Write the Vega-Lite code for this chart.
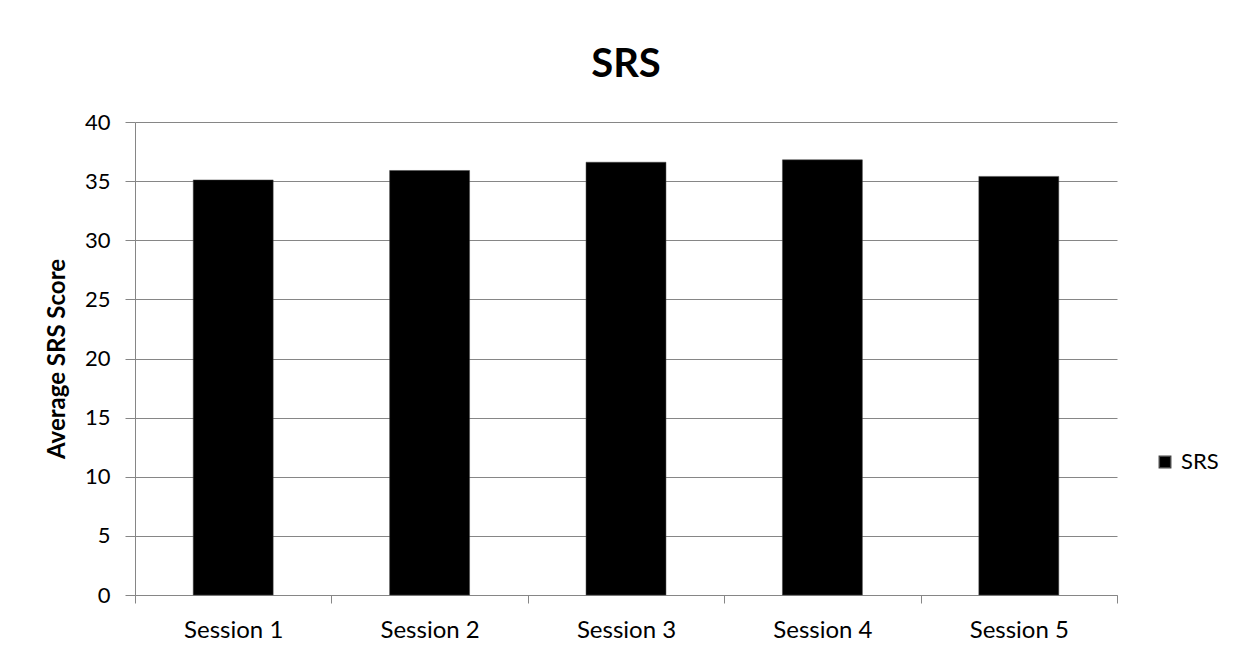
{
  "$schema": "https://vega.github.io/schema/vega-lite/v6.json",
  "width": 982,
  "height": 473,
  "autosize": {"type": "none"},
  "padding": {"left": 135, "top": 122, "right": 119, "bottom": 62},
  "background": "white",
  "title": {
    "text": "SRS",
    "font": "Lato",
    "fontSize": 40,
    "fontWeight": "bold",
    "color": "#000000",
    "anchor": "middle",
    "offset": 26
  },
  "data": {
    "values": [
      {"session": "Session 1", "score": 35.1, "series": "SRS"},
      {"session": "Session 2", "score": 35.9, "series": "SRS"},
      {"session": "Session 3", "score": 36.6, "series": "SRS"},
      {"session": "Session 4", "score": 36.8, "series": "SRS"},
      {"session": "Session 5", "score": 35.4, "series": "SRS"}
    ]
  },
  "mark": {"type": "bar", "width": {"band": 0.407}, "stroke": "#444444", "strokeWidth": 0.5},
  "encoding": {
    "x": {
      "field": "session",
      "type": "nominal",
      "sort": null,
      "scale": {"paddingInner": 0, "paddingOuter": 0},
      "axis": {
        "title": null,
        "labelAngle": 0,
        "labelFont": "Lato",
        "labelFontSize": 24,
        "labelColor": "#000000",
        "labelPadding": 15,
        "tickBand": "extent",
        "tickSize": 8,
        "tickColor": "#868686",
        "domainColor": "#868686",
        "grid": false
      }
    },
    "y": {
      "field": "score",
      "type": "quantitative",
      "scale": {"domain": [0, 40]},
      "axis": {
        "title": "Average SRS Score",
        "titleFont": "Lato",
        "titleFontSize": 24,
        "titleFontWeight": "bold",
        "titleColor": "#000000",
        "titlePadding": 15,
        "values": [0, 5, 10, 15, 20, 25, 30, 35, 40],
        "labelFont": "Lato",
        "labelFontSize": 22,
        "labelColor": "#000000",
        "labelPadding": 15,
        "tickSize": 10,
        "tickColor": "#868686",
        "domainColor": "#868686",
        "gridColor": "#868686",
        "gridWidth": 1
      }
    },
    "color": {
      "field": "series",
      "type": "nominal",
      "scale": {"range": ["#000000"]},
      "legend": {
        "title": null,
        "orient": "none",
        "legendX": 1019,
        "legendY": 329,
        "symbolType": "square",
        "symbolSize": 130,
        "labelOffset": 5,
        "labelFont": "Lato",
        "labelFontSize": 22,
        "labelColor": "#000000"
      }
    }
  },
  "config": {"view": {"stroke": null}}
}
